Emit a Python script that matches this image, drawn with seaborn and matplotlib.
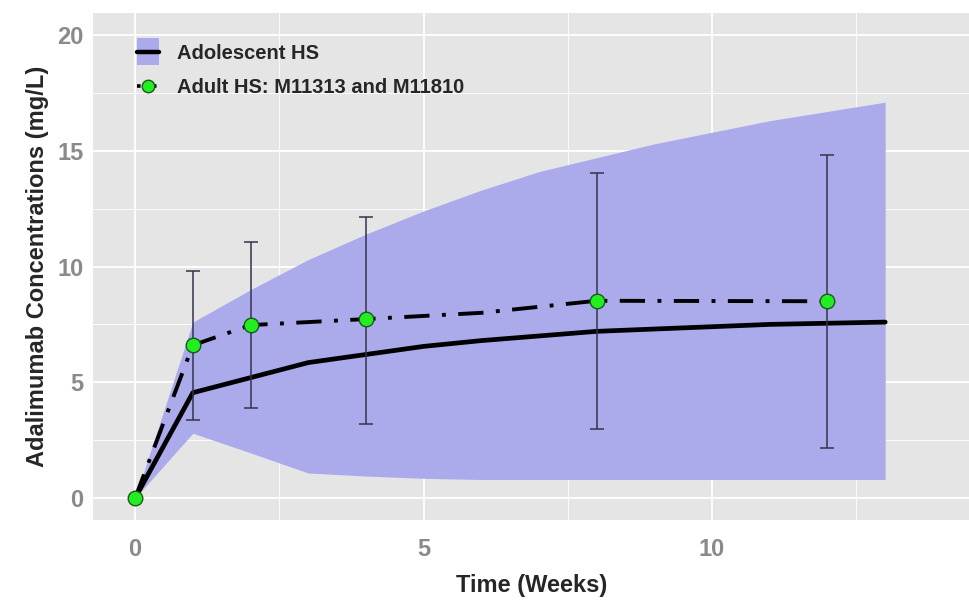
import numpy as np
import pandas as pd
import matplotlib
matplotlib.use("Agg")
import matplotlib.pyplot as plt
import seaborn as sns
from matplotlib.patches import Patch, Rectangle
from matplotlib.lines import Line2D
from matplotlib.legend_handler import HandlerBase

# Adolescent HS: simulated median and prediction band (weeks 0..13)
adol_weeks = [0, 1, 2, 3, 4, 5, 6, 7, 8, 9, 10, 11, 12, 13]
adol_median = [0, 4.55, 5.2, 5.85, 6.2, 6.55, 6.8, 7.0, 7.2, 7.3, 7.4, 7.5, 7.55, 7.6]
adol_upper = [0, 7.6, 9.0, 10.3, 11.4, 12.4, 13.3, 14.1, 14.7, 15.3, 15.8, 16.3, 16.7, 17.1]
adol_lower = [0, 2.8, 1.95, 1.08, 0.95, 0.85, 0.8, 0.8, 0.8, 0.8, 0.8, 0.8, 0.8, 0.8]

# Adult HS observed (M11313 and M11810)
adult_weeks = [0, 1, 2, 4, 8, 12]
adult_mean = [0, 6.6, 7.47, 7.73, 8.52, 8.5]
adult_lo = [0, 3.37, 3.9, 3.2, 3.0, 2.15]
adult_hi = [0, 9.8, 11.05, 12.15, 14.05, 14.8]

# dash-dot line path (slight bend at week 6)
adult_line_weeks = [0, 1, 2, 4, 6, 8, 12]
adult_line_vals = [0, 6.6, 7.47, 7.73, 8.0, 8.52, 8.5]

adol = pd.DataFrame({"week": adol_weeks, "median": adol_median,
                     "lower": adol_lower, "upper": adol_upper})
adult = pd.DataFrame({"week": adult_weeks, "mean": adult_mean,
                      "lo": adult_lo, "hi": adult_hi})
adult_line = pd.DataFrame({"week": adult_line_weeks, "conc": adult_line_vals})

sns.set_style("darkgrid", {"axes.facecolor": "#E5E5E5", "grid.color": "white"})
plt.rcParams["font.family"] = ["Liberation Sans", "DejaVu Sans"]

band_col = "#ABABEC"
green = "#22EE22"


# legend key: band patch with thick black line through it
class BandLineHandler(HandlerBase):
    def create_artists(self, legend, orig, xd, yd, w, h, fontsize, trans):
        r = Rectangle((xd, yd - h * 0.45), w, h * 1.9, facecolor=band_col,
                      edgecolor="none", transform=trans)
        ln = Line2D([xd, xd + w], [yd + h / 2, yd + h / 2], color="black", lw=3.2,
                    transform=trans)
        return [r, ln]


fig = plt.figure(figsize=(9.7, 6.0), dpi=100)
ax = fig.add_axes([0.0959, 0.1333, 0.9041, 0.845])

ax.fill_between(adol["week"], adol["lower"], adol["upper"], color=band_col, lw=0, zorder=2)

sns.lineplot(data=adol, x="week", y="median", ax=ax, color="black", lw=3.4, zorder=3)
sns.lineplot(data=adult_line, x="week", y="conc", ax=ax, color="black", lw=2.8,
             linestyle=(0, (6.5, 3.2, 1.0, 3.2)), zorder=4)

err = adult[adult["week"] > 0]
ax.errorbar(err["week"], err["mean"],
            yerr=[err["mean"] - err["lo"], err["hi"] - err["mean"]],
            fmt="none", ecolor="#33334A", elinewidth=1.1, capsize=5, capthick=1.1, zorder=5)
sns.scatterplot(data=adult, x="week", y="mean", ax=ax, color=green,
                edgecolor="#1A5A1A", linewidth=1.0, s=110, zorder=6)

ax.set_xlim(-0.73, 14.47)
ax.set_ylim(-0.95, 20.95)
ax.set_xticks([0, 5, 10])
ax.set_yticks([0, 5, 10, 15, 20])
ax.set_xticks([2.5, 7.5, 12.5], minor=True)
ax.set_yticks([2.5, 7.5, 12.5, 17.5], minor=True)
ax.grid(which="major", color="white", lw=1.3)
ax.grid(which="minor", color="white", lw=0.6)
for s in ax.spines.values():
    s.set_visible(False)
ax.tick_params(which="major", length=4, width=1, color="#A0A0A0",
               labelsize=17, labelcolor="#8A8A8A")
ax.tick_params(axis="x", pad=9)
ax.tick_params(axis="y", pad=3)
ax.tick_params(which="minor", length=0)
for lab in ax.get_xticklabels() + ax.get_yticklabels():
    lab.set_fontweight("bold")

ax.set_xlabel("Time (Weeks)", fontsize=17, fontweight="bold", labelpad=9)
ax.set_ylabel("Adalimumab Concentrations (mg/L)", fontsize=17, fontweight="bold", labelpad=6)

h1 = Patch()
h2 = Line2D([], [], color="black", lw=2.6, linestyle=(0, (1.0, 1.2)),
            marker="o", markersize=9, markerfacecolor=green, markeredgecolor="#1A5A1A")
ax.legend([h1, h2], ["Adolescent HS", "Adult HS: M11313 and M11810"],
          handler_map={Patch: BandLineHandler()},
          loc="upper left", bbox_to_anchor=(0.03, 0.975), frameon=False,
          prop={"weight": "bold", "size": 14.5}, handlelength=1.05, handletextpad=0.9,
          labelspacing=0.75)

fig.savefig("out.png", dpi=100, facecolor="white")
